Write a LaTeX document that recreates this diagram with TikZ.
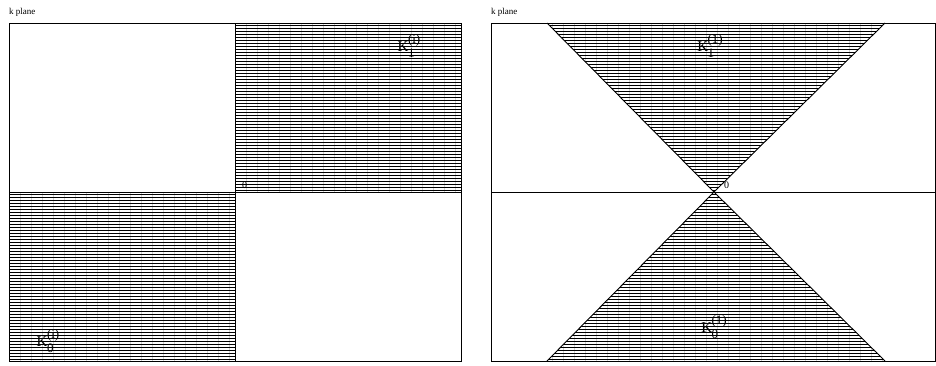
\documentclass[tikz,border=0pt]{standalone}
\usepackage{fontspec}
\setmainfont{Liberation Serif}
\newcommand{\kaplab}[2]{{\fontsize{15}{15}\selectfont K}\kern-0.5pt\raisebox{-6pt}{\fontsize{13}{11}\selectfont\shortstack[l]{#2\\#1}}}
\begin{document}
\begin{tikzpicture}[x=1pt,y=-1pt,
  frame/.style={draw=black,line width=0.9pt},
  hatchline/.style={draw=black,line width=0.55pt},
  gridline/.style={draw=black!18,line width=0.3pt,dash pattern=on 2pt off 1pt},
  small/.style={font=\fontsize{9}{10}\selectfont,inner sep=0pt,anchor=base west},
  lab/.style={inner sep=0pt}]
\useasboundingbox (0,0) rectangle (936,365);
% ---------- left panel ----------
\node[small] (tl) at (9,14) {k plane};
\begin{scope}
  \clip (235,23) rectangle (461,192);
  \foreach \yy in {25,28,...,192} \draw[hatchline] (235,\yy) -- (461,\yy);
  \foreach \xx in {246,257,...,461} \draw[gridline] (\xx,23) -- (\xx,192);
\end{scope}
\begin{scope}
  \clip (9,192) rectangle (235,361);
  \foreach \yy in {194,197,...,361} \draw[hatchline] (9,\yy) -- (235,\yy);
  \foreach \xx in {20,31,...,235} \draw[gridline] (\xx,192) -- (\xx,361);
\end{scope}
\draw[frame] (9,23) rectangle (461,361);
\draw[frame] (235,23) -- (235,361);
\draw[frame] (9,192) -- (461,192);
\node[small,font=\fontsize{10}{11}\selectfont] (zl) at (242,188) {0};
\node[lab] (k1l) at (409,46) {\kaplab{1}{(i)}};
\node[lab] (k0l) at (48,341) {\kaplab{0}{(i)}};
% ---------- right panel ----------
\node[small] (tr) at (491,14) {k plane};
\coordinate (apex) at (714,192);
\begin{scope}
  \clip (547,23) -- (885,23) -- (apex) -- cycle;
  \foreach \yy in {25,28,...,192} \draw[hatchline] (547,\yy) -- (885,\yy);
  \foreach \xx in {552,563,...,885} \draw[gridline] (\xx,23) -- (\xx,192);
\end{scope}
\begin{scope}
  \clip (547,361) -- (885,361) -- (apex) -- cycle;
  \foreach \yy in {194,197,...,361} \draw[hatchline] (547,\yy) -- (885,\yy);
  \foreach \xx in {552,563,...,885} \draw[gridline] (\xx,192) -- (\xx,361);
\end{scope}
\draw[frame] (491,23) rectangle (935,361);
\draw[frame] (491,192) -- (935,192);
\draw[frame] (547,23) -- (apex) -- (885,23);
\draw[frame] (547,361) -- (apex) -- (885,361);
\node[small,font=\fontsize{10}{11}\selectfont] (zr) at (724,188) {0};
\node[lab] (k1r) at (710,46) {\kaplab{1}{(1)}};
\node[lab] (k0r) at (714,327) {\kaplab{0}{(1)}};
\end{tikzpicture}
\end{document}
